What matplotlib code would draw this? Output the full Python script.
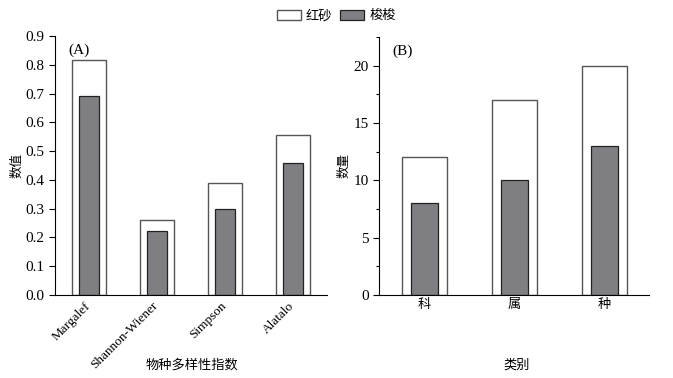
import matplotlib.pyplot as plt
import numpy as np
from matplotlib.patches import Patch
from matplotlib.ticker import MultipleLocator
from matplotlib.transforms import ScaledTranslation

plt.rcParams['font.family'] = ['Liberation Serif', 'Noto Sans CJK SC']
plt.rcParams['font.size'] = 11

# diversity indices
idx_names = ['Margalef', 'Shannon-Wiener', 'Simpson', 'Alatalo']
hongsha_idx = [0.815, 0.26, 0.39, 0.557]
suosuo_idx = [0.693, 0.222, 0.30, 0.46]

# taxon counts
taxa = ['科', '属', '种']
hongsha_cnt = [12, 17, 20]
suosuo_cnt = [8, 10, 13]

white_kw = dict(facecolor='white', edgecolor='#555555', linewidth=1.0)
gray_kw = dict(facecolor='#7f7e82', edgecolor='#222222', linewidth=0.9)
cjk = 9.5

fig = plt.figure(figsize=(6.73, 3.78), dpi=100)
ax1 = fig.add_axes([55/673, 1 - 295/378, 272/673, 259/378])
ax2 = fig.add_axes([379/673, 1 - 295/378, 270/673, 258/378])

x1 = np.arange(len(idx_names))
ax1.bar(x1, hongsha_idx, width=0.5, **white_kw)
ax1.bar(x1, suosuo_idx, width=0.3, **gray_kw)
ax1.set_xlim(-0.5, 3.5)
ax1.set_ylim(0, 0.9)
ax1.yaxis.set_major_locator(MultipleLocator(0.1))
ax1.set_xticks(x1)
ax1.set_xticklabels([])
# rotated labels, nudged a little left of the tick like the original
lab_trans = ax1.get_xaxis_transform() + ScaledTranslation(-5 / 100, -5 / 100, fig.dpi_scale_trans)
for xi, name in zip(x1, idx_names):
    ax1.text(xi, 0, name, transform=lab_trans, rotation=45, ha='right', va='top',
             rotation_mode='anchor', fontsize=9.5)
ax1.set_ylabel('数值', fontsize=9)
ax1.set_xlabel('物种多样性指数', fontsize=cjk)
ax1.text(0.05, 0.97, '(A)', transform=ax1.transAxes, va='top')

x2 = np.arange(len(taxa))
ax2.bar(x2, hongsha_cnt, width=0.5, **white_kw)
ax2.bar(x2, suosuo_cnt, width=0.3, **gray_kw)
ax2.set_xlim(-0.5, 2.5)
ax2.set_ylim(0, 22.5)
ax2.yaxis.set_major_locator(MultipleLocator(5))
ax2.yaxis.set_minor_locator(MultipleLocator(2.5))
ax2.set_xticks(x2)
ax2.set_xticklabels(taxa, fontsize=cjk)
ax2.set_ylabel('数量', fontsize=9)
ax2.set_xlabel('类别', fontsize=cjk)
ax2.text(0.05, 0.97, '(B)', transform=ax2.transAxes, va='top')

# label positions in figure pixels -> axes coords
ax1.xaxis.set_label_coords((192 - 55) / 272, (295 - 365) / 259)
ax2.xaxis.set_label_coords((517 - 379) / 270, (295 - 365) / 258)
ax1.yaxis.set_label_coords((23 - 55) / 272, 0.5)
ax2.yaxis.set_label_coords((350 - 379) / 270, 0.5)
ax1.xaxis.label.set_va('center')
ax2.xaxis.label.set_va('center')

for ax in (ax1, ax2):
    ax.spines['top'].set_visible(False)
    ax.spines['right'].set_visible(False)
    ax.tick_params(direction='out', length=4, width=0.8)
    ax.tick_params(which='minor', direction='out', length=2.5, width=0.8)
    ax.tick_params(axis='x', length=0, pad=3)

handles = [Patch(**white_kw), Patch(**gray_kw)]
fig.legend(handles, ['红砂', '梭梭'], loc='center', bbox_to_anchor=(0.5, 1 - 16/378),
           ncol=2, frameon=False, handlelength=1.8, handleheight=0.85,
           columnspacing=0.6, handletextpad=0.4, fontsize=cjk)

fig.savefig('out.png', dpi=100)
